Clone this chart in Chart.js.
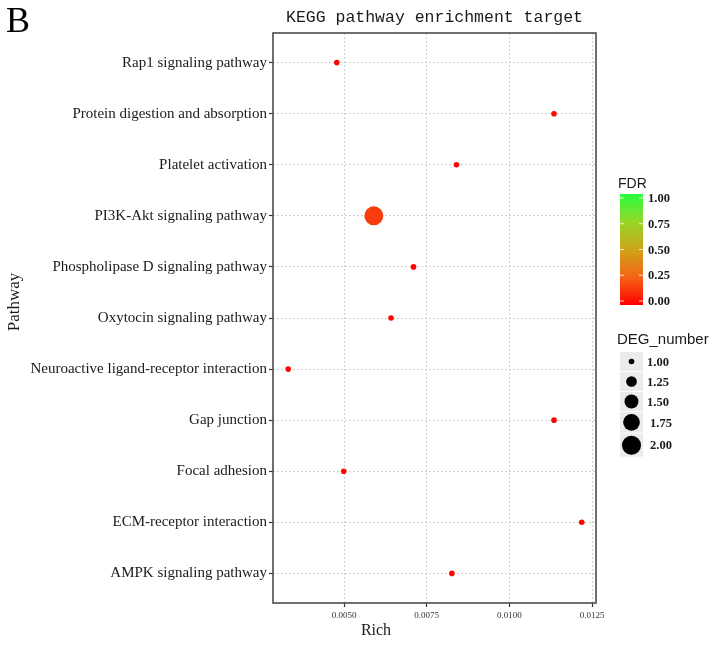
<!DOCTYPE html>
<html>
<head>
<meta charset="utf-8">
<script src="https://cdn.jsdelivr.net/npm/chart.js@4/dist/chart.umd.min.js"></script>
<style>
  html, body { margin: 0; padding: 0; background: #fff; }
</style>
</head>
<body>
<canvas id="keggChart" width="718" height="645"></canvas>
<script>
// pathways, top to bottom
const pathways = [
  'Rap1 signaling pathway',
  'Protein digestion and absorption',
  'Platelet activation',
  'PI3K-Akt signaling pathway',
  'Phospholipase D signaling pathway',
  'Oxytocin signaling pathway',
  'Neuroactive ligand-receptor interaction',
  'Gap junction',
  'Focal adhesion',
  'ECM-receptor interaction',
  'AMPK signaling pathway'
];
const richValues = [0.00478, 0.01135, 0.00840, 0.00590, 0.00710, 0.00642, 0.00331, 0.01135, 0.00499, 0.01219, 0.00826];
const degNumbers = [1, 1, 1, 2, 1, 1, 1, 1, 1, 1, 1];
const fdrValues  = [0.01, 0.01, 0.01, 0.15, 0.01, 0.01, 0.01, 0.01, 0.01, 0.01, 0.01];

const richTickStep = 0.0025;
const fdrLegendTicks = [1.00, 0.75, 0.50, 0.25, 0.00];
const degLegendTicks = [1.00, 1.25, 1.50, 1.75, 2.00];

// colour scale red -> green
const fdrStops = [
  [0.00, [255, 0, 0]],
  [0.25, [245, 100, 20]],
  [0.50, [205, 165, 25]],
  [0.75, [150, 215, 40]],
  [1.00, [40, 255, 60]]
];
function fdrColor(v) {
  for (let i = 1; i < fdrStops.length; i++) {
    if (v <= fdrStops[i][0]) {
      const [a, ca] = fdrStops[i - 1];
      const [b, cb] = fdrStops[i];
      const t = (v - a) / (b - a);
      const c = ca.map((x, k) => Math.round(x + (cb[k] - x) * t));
      return 'rgb(' + c.join(',') + ')';
    }
  }
  return 'rgb(40,255,60)';
}

// size scale (area linear in DEG_number)
const rMin = 2.8, rMax = 9.5;
function degRadius(d) {
  return Math.sqrt(rMin * rMin + (rMax * rMax - rMin * rMin) * (d - 1));
}

const points = pathways.map((p, i) => ({ x: richValues[i], y: i, r: degRadius(degNumbers[i]) }));
const pointColors = fdrValues.map(fdrColor);

const serif = '"Liberation Serif", "Times New Roman", serif';
const sans = '"Liberation Sans", Arial, sans-serif';

const decorations = {
  id: 'decorations',
  afterDraw(chart) {
    const ctx = chart.ctx;
    const area = chart.chartArea;
    ctx.save();

    // panel border
    ctx.strokeStyle = '#4d4d4d';
    ctx.lineWidth = 1.6;
    ctx.strokeRect(area.left, area.top, area.right - area.left, area.bottom - area.top);

    // panel letter
    ctx.fillStyle = '#000';
    ctx.font = '36px ' + serif;
    ctx.textAlign = 'left';
    ctx.textBaseline = 'alphabetic';
    ctx.fillText('B', 6, 32);

    // title
    ctx.font = '16.5px "Liberation Mono", "DejaVu Sans Mono", monospace';
    ctx.textAlign = 'center';
    ctx.textBaseline = 'middle';
    ctx.fillStyle = '#1a1a1a';
    ctx.fillText('KEGG pathway enrichment target', (area.left + area.right) / 2, 18);

    // axis titles
    ctx.font = '16px ' + serif;
    ctx.fillText('Rich', 376, 631);
    ctx.save();
    ctx.translate(15, 302);
    ctx.rotate(-Math.PI / 2);
    ctx.font = '17px ' + serif;
    ctx.fillText('Pathway', 0, 0);
    ctx.restore();

    // FDR colour bar
    const barX = 620, barW = 23, barTop = 194, barBot = 305;
    const v1 = 198, v0 = 301;
    ctx.font = '14px ' + sans;
    ctx.textAlign = 'left';
    ctx.fillStyle = '#1a1a1a';
    ctx.fillText('FDR', 618, 184);
    const grad = ctx.createLinearGradient(0, barBot, 0, barTop);
    fdrStops.forEach(([s, c]) => grad.addColorStop(s, 'rgb(' + c.join(',') + ')'));
    ctx.fillStyle = grad;
    ctx.fillRect(barX, barTop, barW, barBot - barTop);
    ctx.strokeStyle = 'rgba(255,255,255,0.8)';
    ctx.lineWidth = 1;
    ctx.font = 'bold 12.5px ' + serif;
    fdrLegendTicks.forEach(v => {
      const y = v0 + (v1 - v0) * v;
      ctx.beginPath();
      ctx.moveTo(barX, y); ctx.lineTo(barX + 4, y);
      ctx.moveTo(barX + barW - 4, y); ctx.lineTo(barX + barW, y);
      ctx.stroke();
      ctx.fillStyle = '#1a1a1a';
      ctx.fillText(v.toFixed(2), barX + barW + 5, y + 1);
    });

    // DEG_number size keys
    ctx.font = '15px ' + sans;
    ctx.fillStyle = '#1a1a1a';
    ctx.fillText('DEG_number', 617, 340);
    let y = 352;
    ctx.font = 'bold 12.5px ' + serif;
    degLegendTicks.forEach(d => {
      const r = degRadius(d);
      const h = Math.max(19, 2 * r + 4);
      ctx.fillStyle = '#ebebeb';
      ctx.fillRect(barX, y, barW, h);
      ctx.fillStyle = '#000';
      ctx.beginPath();
      ctx.arc(barX + barW / 2, y + h / 2, r, 0, Math.PI * 2);
      ctx.fill();
      ctx.fillStyle = '#1a1a1a';
      ctx.fillText(d.toFixed(2), barX + barW + 4 + (r > 7.5 ? 3 : 0), y + h / 2 + 1);
      y += h + 1;
    });

    ctx.restore();
  }
};

new Chart(document.getElementById('keggChart'), {
  type: 'bubble',
  data: {
    datasets: [{
      label: 'Pathways',
      data: points,
      backgroundColor: pointColors,
      borderColor: pointColors,
      borderWidth: 0
    }]
  },
  options: {
    responsive: false,
    animation: false,
    layout: { padding: { top: 33, right: 122, bottom: 0, left: 0 } },
    plugins: {
      legend: { display: false },
      tooltip: { enabled: false },
      title: { display: false }
    },
    scales: {
      x: {
        type: 'linear',
        min: 0.00285,
        max: 0.01262,
        afterFit: s => { s.height = 42; },
        border: { display: false, dash: [2, 2] },
        grid: {
          color: '#cfcfcf',
          lineWidth: 1,
          tickLength: 4,
          tickColor: '#333',
          tickWidth: 1.2,
          tickBorderDash: []
        },
        ticks: {
          stepSize: richTickStep,
          includeBounds: false,
          autoSkip: false,
          maxRotation: 0,
          padding: 3,
          color: '#333',
          font: { family: serif, size: 9 },
          callback: v => v.toFixed(4)
        }
      },
      y: {
        type: 'linear',
        reverse: true,
        min: -0.58,
        max: 10.58,
        afterFit: s => { s.width = 273; },
        border: { display: false, dash: [2, 2] },
        grid: {
          color: '#cfcfcf',
          lineWidth: 1,
          tickLength: 4,
          tickColor: '#333',
          tickWidth: 1.2,
          tickBorderDash: []
        },
        ticks: {
          stepSize: 1,
          includeBounds: false,
          autoSkip: false,
          padding: 2,
          color: '#1a1a1a',
          font: { family: serif, size: 15 },
          callback: v => pathways[v] !== undefined ? pathways[v] : ''
        }
      }
    }
  },
  plugins: [decorations]
});
</script>
</body>
</html>
